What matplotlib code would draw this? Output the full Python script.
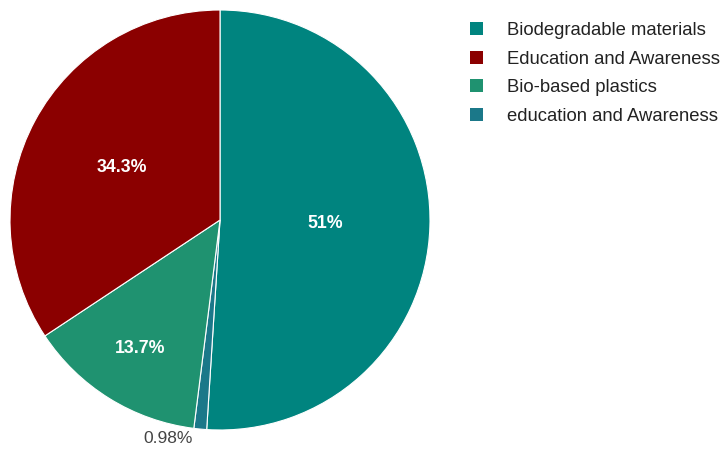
import numpy as np
import matplotlib
matplotlib.use("Agg")
from matplotlib import pyplot as plt
from matplotlib.patches import Patch

plt.rcParams['font.family'] = ['Liberation Sans', 'DejaVu Sans']

# slices, in drawing order (clockwise from top)
labels = ["Biodegradable materials", "education and Awareness",
          "Bio-based plastics", "Education and Awareness"]
values = [51, 0.98, 13.7, 34.3]
colors = ["#00847f", "#1b7889", "#1f9270", "#8b0000"]

# legend order
legend_order = ["Biodegradable materials", "Education and Awareness",
                "Bio-based plastics", "education and Awareness"]

fig = plt.figure(figsize=(7.21, 4.49), dpi=100)
ax = fig.add_axes([10 / 721, 19 / 449, 420 / 721, 420 / 449])

wedges, _ = ax.pie(values, colors=colors, startangle=90, counterclock=False,
                   radius=1, wedgeprops=dict(edgecolor="white", linewidth=0.8))
ax.set_xlim(-1, 1)
ax.set_ylim(-1, 1)
ax.set_aspect("equal")
ax.axis("off")

# label distances (fraction of radius) per slice
dist = [0.5, 1.04, 0.72, 0.53]
total = sum(values)
for w, v, d in zip(wedges, values, dist):
    ang = np.deg2rad((w.theta1 + w.theta2) / 2)
    x, y = d * np.cos(ang), d * np.sin(ang)
    pct = v / total * 100
    if v < 1:
        ax.text(x - 0.03, y - 0.005, "{:g}%".format(round(pct, 2)), ha="right",
                va="center", fontsize=12.5, color="#444444", clip_on=False)
    else:
        ax.text(x, y, "{:g}%".format(round(pct, 1)), ha="center", va="center",
                fontsize=12.8, color="white", fontweight="bold")

handles = [Patch(facecolor=colors[labels.index(n)], edgecolor="none") for n in legend_order]
leg = fig.legend(handles, legend_order, loc="upper left",
                 bbox_to_anchor=(463 / 721, 1 - 15 / 449), frameon=False,
                 fontsize=13.3, handlelength=0.7, handleheight=0.7,
                 handletextpad=1.3, labelspacing=0.62, borderaxespad=0)
for t in leg.get_texts():
    t.set_color("#222222")

plt.savefig("out.png", dpi=100)
